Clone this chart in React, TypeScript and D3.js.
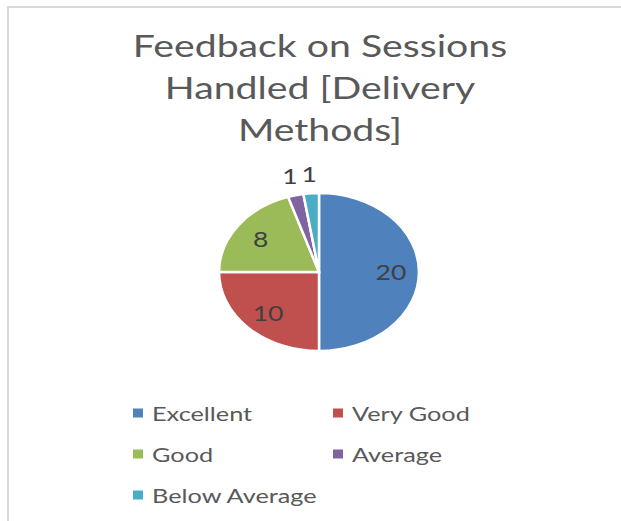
import * as d3 from "d3";

// chart data
const categories = ["Excellent", "Very Good", "Good", "Average", "Below Average"];
const counts = [20, 10, 8, 1, 1];
const colors = ["#4F81BD", "#C0504D", "#9BBB59", "#8064A2", "#4BACC6"];
const titleLines = ["Feedback on Sessions", "Handled [Delivery", "Methods]"];

const W = 621;
const H = 521;
const SX = 1.265; // the picture is stretched horizontally
const cx = 319;
const cy = 272;
const R = 79;

interface Datum {
  name: string;
  value: number;
  color: string;
}

export default function App() {
  const data: Datum[] = categories.map((name, i) => ({
    name,
    value: counts[i],
    color: colors[i],
  }));
  const total = d3.sum(counts);

  const pie = d3
    .pie<Datum>()
    .value((d) => d.value)
    .sort(null)
    .startAngle(0)
    .endAngle(2 * Math.PI);
  const arcs = pie(data);
  const arc = d3.arc<d3.PieArcDatum<Datum>>().innerRadius(0).outerRadius(R);

  // label position in page coords
  const labelPos = (a: d3.PieArcDatum<Datum>) => {
    const mid = (a.startAngle + a.endAngle) / 2;
    const r = a.value / total > 0.1 ? R * 0.72 : R * 1.25;
    return [cx + Math.sin(mid) * r * SX, cy - Math.cos(mid) * r];
  };

  const legendCols = [133, 333];
  const legendRows = [413, 454, 495];
  const font = "Lato, 'Open Sans', sans-serif";

  return (
    <svg
      width={W}
      height={H}
      style={{ position: "absolute", left: 0, top: 0, background: "#fff" }}
    >
      <rect x={0} y={0} width={W} height={H} fill="#fff" />
      <path d="M8,530 L8,7 L630,7" fill="none" stroke="#d9d9d9" strokeWidth={2} />

      {titleLines.map((t, i) => (
        <text
          key={t}
          transform={`translate(320,${57 + i * 42}) scale(${SX},1)`}
          textAnchor="middle"
          fontFamily={font}
          fontSize={31}
          fill="#595959"
        >
          {t}
        </text>
      ))}

      <g transform={`translate(${cx},${cy}) scale(${SX},1)`}>
        {arcs.map((a) => (
          <path
            key={a.data.name}
            d={arc(a) || ""}
            fill={a.data.color}
            stroke="#fff"
            strokeWidth={2.5}
            vectorEffect="non-scaling-stroke"
          />
        ))}
      </g>

      {arcs.map((a) => {
        const [x, y] = labelPos(a);
        return (
          <text
            key={"l" + a.data.name}
            transform={`translate(${x},${y}) scale(${SX},1)`}
            textAnchor="middle"
            dominantBaseline="central"
            fontFamily={font}
            fontSize={21}
            fill="#404040"
          >
            {a.data.value}
          </text>
        );
      })}

      {data.map((d, i) => {
        const x = legendCols[i % 2];
        const y = legendRows[Math.floor(i / 2)];
        return (
          <g key={"lg" + d.name}>
            <rect x={x} y={y - 4.5} width={10} height={9} fill={d.color} />
            <text
              transform={`translate(${x + 19},${y}) scale(${SX},1)`}
              dominantBaseline="central"
              fontFamily={font}
              fontSize={20}
              fill="#595959"
            >
              {d.name}
            </text>
          </g>
        );
      })}
    </svg>
  );
}
